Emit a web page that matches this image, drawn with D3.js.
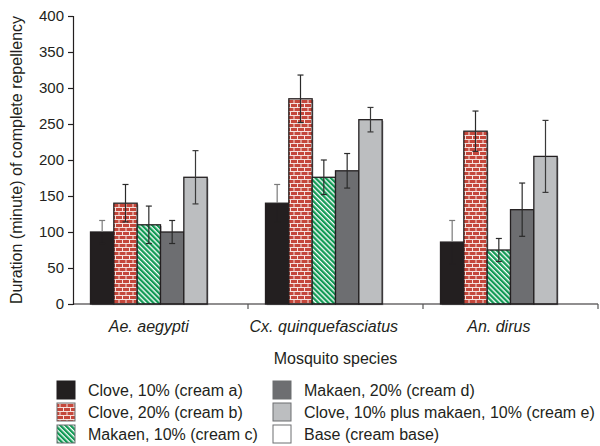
<!DOCTYPE html>
<html>
<head>
<meta charset="utf-8">
<script src="https://cdn.jsdelivr.net/npm/d3@7"></script>
<style>
  html, body { margin: 0; padding: 0; background: #fff; }
  svg { display: block; }
  text { font-family: "Liberation Sans", Arial, Helvetica, sans-serif; fill: #231f20; }
</style>
</head>
<body>
<svg id="chart" width="600" height="446"></svg>
<script>
// ---- data ----
const categories = ["Ae. aegypti", "Cx. quinquefasciatus", "An. dirus"];
const seriesNames = [
  "Clove, 10% (cream a)",
  "Clove, 20% (cream b)",
  "Makaen, 10% (cream c)",
  "Makaen, 20% (cream d)",
  "Clove, 10% plus makaen, 10% (cream e)",
  "Base (cream base)"
];
const creamA = [100, 140, 86];
const creamB = [140, 285, 240];
const creamC = [110, 176, 75];
const creamD = [100, 185, 131];
const creamE = [176, 256, 205];
const creamBase = [0, 0, 0];
const errA = [16, 26, 30];
const errB = [26, 33, 28];
const errC = [26, 24, 16];
const errD = [16, 24, 37];
const errE = [37, 17, 50];
const errBase = [0, 0, 0];
const yTicks = [0, 50, 100, 150, 200, 250, 300, 350, 400];
const yTitle = "Duration (minute) of complete repellency";
const xTitle = "Mosquito species";

const values = [creamA, creamB, creamC, creamD, creamE, creamBase];
const errors = [errA, errB, errC, errD, errE, errBase];

// ---- styling ----
const fills = ["#231f20", "url(#brick)", "url(#stripes)", "#6d6e71", "#bcbec0", "#ffffff"];
const errColors = ["#7a7a7a", "#2a2a2a", "#2a2a2a", "#2a2a2a", "#3a3a3a", "#2a2a2a"];
const errLowColors = ["#231f20", "#2a2a2a", "#2a2a2a", "#2a2a2a", "#3a3a3a", "#2a2a2a"];

const svg = d3.select("#chart");
const defs = svg.append("defs");

// brick pattern
const brick = defs.append("pattern").attr("id", "brick").attr("patternUnits", "userSpaceOnUse")
  .attr("width", 7).attr("height", 8);
brick.append("rect").attr("width", 7).attr("height", 8).attr("fill", "#c4473b");
brick.append("rect").attr("x", 0).attr("y", 3).attr("width", 7).attr("height", 1).attr("fill", "#f5e2de");
brick.append("rect").attr("x", 0).attr("y", 7).attr("width", 7).attr("height", 1).attr("fill", "#f5e2de");
brick.append("rect").attr("x", 0).attr("y", 0).attr("width", 1).attr("height", 3).attr("fill", "#f5e2de");
brick.append("rect").attr("x", 3.5).attr("y", 4).attr("width", 1).attr("height", 3).attr("fill", "#f5e2de");

// diagonal stripes
const stripes = defs.append("pattern").attr("id", "stripes").attr("patternUnits", "userSpaceOnUse")
  .attr("width", 3.6).attr("height", 3.6).attr("patternTransform", "rotate(45)");
stripes.append("rect").attr("width", 3.6).attr("height", 3.6).attr("fill", "#119a55");
stripes.append("rect").attr("y", 0).attr("width", 3.6).attr("height", 1.3).attr("fill", "#ffffff");

// ---- scales ----
const x0 = d3.scaleBand().domain(categories).range([73, 598]).padding(0);
const bw = x0.bandwidth();
const x1 = d3.scaleBand().domain(d3.range(seriesNames.length)).range([bw * 0.1, bw * 0.9]).padding(0);
const y = d3.scaleLinear().domain([0, 400]).range([304, 16]);

// ---- bars ----
const groups = svg.append("g").selectAll("g").data(categories).join("g")
  .attr("transform", d => `translate(${x0(d)},0)`);

groups.each(function(cat, ci) {
  const g = d3.select(this);
  const items = seriesNames.map((s, si) => ({ si, v: values[si][ci], e: errors[si][ci] })).filter(d => d.v > 0);
  g.selectAll("rect.shadow").data(items).join("rect").attr("class", "shadow")
    .attr("x", d => x1(d.si) + 1.2).attr("y", d => y(d.v) + 1.2)
    .attr("width", x1.bandwidth()).attr("height", d => y(0) - y(d.v))
    .attr("fill", "#a7a9ac");
  g.selectAll("rect.bar").data(items).join("rect").attr("class", "bar")
    .attr("x", d => x1(d.si)).attr("y", d => y(d.v))
    .attr("width", x1.bandwidth()).attr("height", d => y(0) - y(d.v))
    .attr("fill", d => fills[d.si]).attr("stroke", "#231f20").attr("stroke-width", 1.3);
  const eb = g.selectAll("g.err").data(items).join("g").attr("class", "err").attr("stroke-width", 1.2);
  const cx = d => x1(d.si) + x1.bandwidth() / 2;
  eb.append("line").attr("stroke", d => errColors[d.si])
    .attr("x1", cx).attr("x2", cx).attr("y1", d => y(d.v + d.e)).attr("y2", d => y(d.v));
  eb.append("line").attr("stroke", d => errLowColors[d.si])
    .attr("x1", cx).attr("x2", cx).attr("y1", d => y(d.v)).attr("y2", d => y(d.v - d.e));
  eb.append("line").attr("stroke", d => errColors[d.si])
    .attr("x1", d => cx(d) - 3).attr("x2", d => cx(d) + 3).attr("y1", d => y(d.v + d.e)).attr("y2", d => y(d.v + d.e));
  eb.append("line").attr("stroke", d => errLowColors[d.si])
    .attr("x1", d => cx(d) - 3).attr("x2", d => cx(d) + 3).attr("y1", d => y(d.v - d.e)).attr("y2", d => y(d.v - d.e));
});

// ---- axes ----
const yAxis = d3.axisLeft(y).tickValues(yTicks).tickSize(5).tickPadding(4);
const yg = svg.append("g").attr("transform", "translate(73,0)").call(yAxis);
yg.select(".domain").attr("stroke", "#231f20").attr("stroke-width", 1.2);
yg.selectAll(".tick line").attr("stroke", "#231f20").attr("stroke-width", 1.2);
yg.selectAll(".tick text").style("font-size", "15px").attr("fill", "#231f20")
  .style("font-family", "'Liberation Sans', Arial, sans-serif");

const xg = svg.append("g");
xg.append("line").attr("x1", x0.range()[0]).attr("x2", x0.range()[1]).attr("y1", y(0)).attr("y2", y(0))
  .attr("stroke", "#231f20").attr("stroke-width", 1.2);
const bounds = categories.map(c => x0(c) + bw);
xg.selectAll("line.tk").data(bounds).join("line").attr("class", "tk")
  .attr("x1", d => d).attr("x2", d => d).attr("y1", y(0)).attr("y2", y(0) + 5)
  .attr("stroke", "#555").attr("stroke-width", 1.2);

xg.selectAll("text.cat").data(categories).join("text").attr("class", "cat")
  .attr("x", (d, i) => x0(d) + (x1(0) + x1(4) + x1.bandwidth()) / 2)
  .attr("y", 332).attr("text-anchor", "middle")
  .style("font-size", "16px").style("font-style", "italic").text(d => d);

svg.append("text").attr("x", (x0.range()[0] + x0.range()[1]) / 2).attr("y", 364)
  .attr("text-anchor", "middle").style("font-size", "16px").text(xTitle);
svg.append("text").attr("transform", `translate(22,${(y(0) + y(400)) / 2}) rotate(-90)`)
  .attr("text-anchor", "middle").style("font-size", "16px").text(yTitle);

// ---- legend ----
const legendCols = [57, 273];
const legendRows = [390, 412, 434];
const lg = svg.append("g");
seriesNames.forEach((name, i) => {
  const col = Math.floor(i / 3), row = i % 3;
  const lx = legendCols[col], ly = legendRows[row];
  lg.append("rect").attr("x", lx).attr("y", ly - 9).attr("width", 18).attr("height", 18)
    .attr("fill", fills[i]).attr("stroke", i === 0 ? "#231f20" : "#6d6e71").attr("stroke-width", 1);
  lg.append("text").attr("x", lx + 31).attr("y", ly).attr("dy", "0.36em")
    .style("font-size", "16px").text(name);
});
</script>
</body>
</html>
